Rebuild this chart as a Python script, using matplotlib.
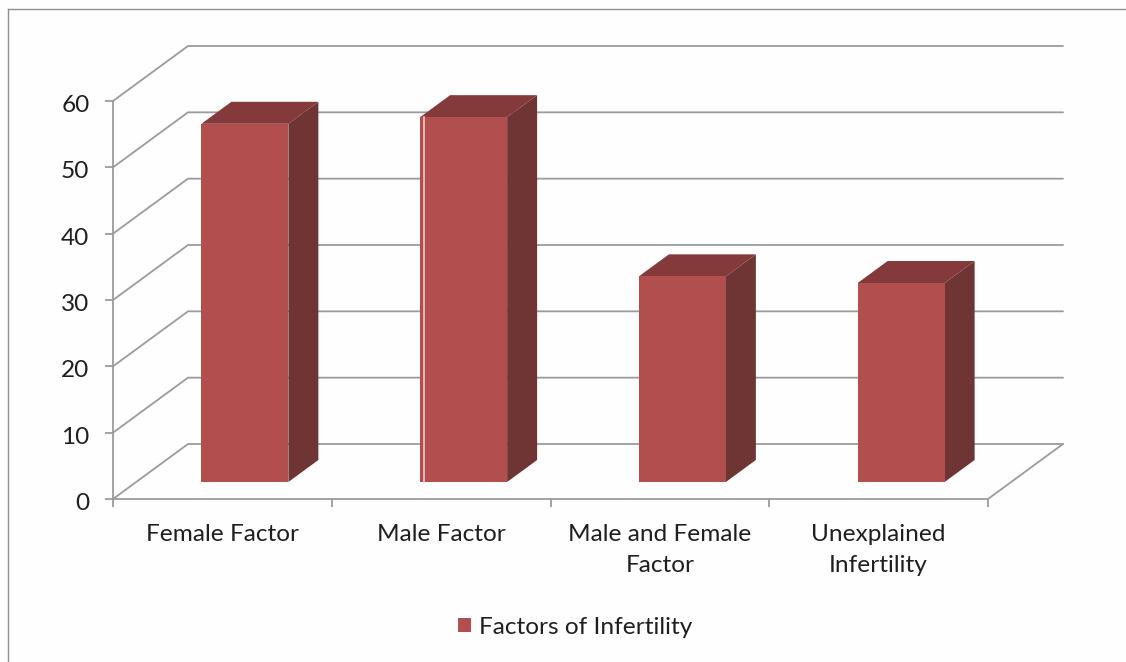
import matplotlib
matplotlib.use("Agg")
import matplotlib.pyplot as plt
from matplotlib.lines import Line2D
from matplotlib.patches import Polygon, Patch
from matplotlib.transforms import ScaledTranslation

categories = ["Female Factor", "Male Factor", "Male and Female\nFactor", "Unexplained\nInfertility"]
values = [54, 55, 31, 30]
y_ticks = [0, 10, 20, 30, 40, 50, 60]
legend_label = "Factors of Infertility"

W, H = 1126, 662
L, R, B, T = 113, 988, 499, 101
GRID = "#9b9b9b"
TEXT = "#1f1f1f"
FS = 17.6
plt.rcParams["font.family"] = ["Lato", "DejaVu Sans"]

fig = plt.figure(figsize=(W / 100, H / 100), dpi=100, facecolor="#fefefe")
ax = fig.add_axes([L / W, 1 - B / H, (R - L) / W, (B - T) / H])
ax.set_xlim(-0.5, 3.5)
ax.set_ylim(0, 60)
ax.patch.set_alpha(0)

px = 4 / (R - L)           # categories per pixel
py = 60 / (B - T)          # value units per pixel
wall_dx, wall_dy = 75 * px, 55 * py
floor_dx, floor_dy = 22.5 * px, 17 * py
depth_dx, depth_dy = 30 * px, 22 * py
half_w = 43.5 * px
line = dict(color=GRID, lw=1.3, clip_on=False, solid_capstyle="round")

for v in y_ticks:
    ax.plot([-0.5, -0.5 + wall_dx, 3.5 + wall_dx],
            [v, v + wall_dy, v + wall_dy], zorder=1, **line)
ax.plot([3.5, 3.5 + wall_dx], [0, wall_dy], zorder=1, **line)

for i, v in enumerate(values):
    x0 = i - half_w + floor_dx
    x1 = i + half_w + floor_dx
    y0 = floor_dy
    y1 = floor_dy + v
    ax.add_patch(Polygon([(x0, y1), (x1, y1), (x1 + depth_dx, y1 + depth_dy), (x0 + depth_dx, y1 + depth_dy)],
                         fc="#843a3a", ec="none", clip_on=False, zorder=3))
    ax.add_patch(Polygon([(x1, y0), (x1 + depth_dx, y0 + depth_dy), (x1 + depth_dx, y1 + depth_dy), (x1, y1)],
                         fc="#6f3434", ec="none", clip_on=False, zorder=3))
    ax.add_patch(Polygon([(x0, y0), (x1, y0), (x1, y1), (x0, y1)],
                         fc="#b14f4e", ec="none", clip_on=False, zorder=4))
    if i == 1:
        ax.plot([x0 + 4 * px] * 2, [y0, y1], color="#e9c9c6", lw=1.2, zorder=5)

for s in ("top", "right"):
    ax.spines[s].set_visible(False)
for s in ("left", "bottom"):
    ax.spines[s].set_color(GRID)
    ax.spines[s].set_linewidth(1.3)
    ax.spines[s].set_zorder(2)

ax.set_yticks(y_ticks)
ax.set_xticks([-0.5, 0.5, 1.5, 2.5, 3.5])
ax.set_xticklabels([])
ax.set_xticks(range(4), categories, minor=True)
ax.tick_params(axis="x", which="major", length=6, width=1.3, color=GRID)
ax.tick_params(axis="x", which="minor", length=0, pad=18, labelsize=FS, labelcolor=TEXT)
ax.tick_params(axis="y", length=6, width=1.3, color=GRID, pad=11, labelsize=FS, labelcolor=TEXT)
for t in ax.get_xticklabels(minor=True):
    t.set_linespacing(1.6)
shift = ScaledTranslation(0, -2.5 / 100, fig.dpi_scale_trans)
for t in ax.get_yticklabels():
    t.set_transform(t.get_transform() + shift)

fig.legend(handles=[Patch(fc="#b14f4e", ec="none", label=legend_label)],
           loc="center", bbox_to_anchor=(575 / W, 1 - 627 / H), frameon=False,
           fontsize=FS, labelcolor=TEXT, handlelength=0.54, handleheight=0.54,
           handletextpad=0.3, borderpad=0)

fig.add_artist(Line2D([8 / W, 8 / W], [0, 1 - 9 / H], color="#8f8f8f", lw=1.0))
fig.add_artist(Line2D([8 / W, 1], [1 - 9 / H, 1 - 9 / H], color="#8f8f8f", lw=1.0))

fig.savefig("out.png", dpi=100, facecolor=fig.get_facecolor())
